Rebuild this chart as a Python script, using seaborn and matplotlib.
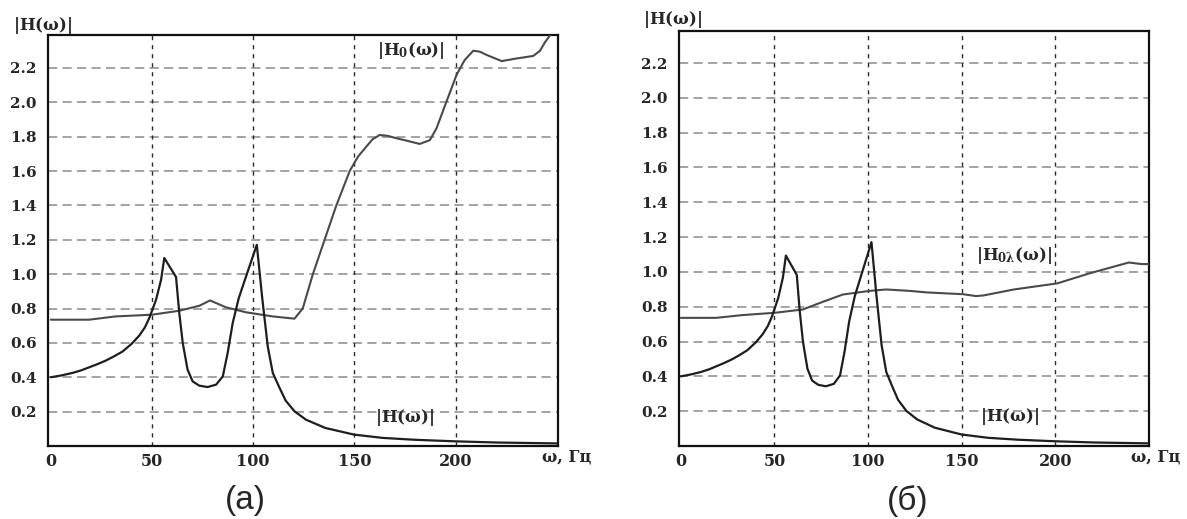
import matplotlib
matplotlib.use("Agg")
import matplotlib.pyplot as plt
import numpy as np
import pandas as pd
import seaborn as sns

# ---------------- data ----------------
x_ticks = [0, 50, 100, 150, 200]
x_tick_labels = ["0", "50", "100", "150", "200"]
y_ticks = [0.2, 0.4, 0.6, 0.8, 1.0, 1.2, 1.4, 1.6, 1.8, 2.0, 2.2]
y_tick_labels = ["0.2", "0.4", "0.6", "0.8", "1.0", "1.2", "1.4", "1.6", "1.8", "2.0", "2.2"]

# |H(w)| - same curve on both panels
omega_H = [0, 5, 10.7, 15, 19, 23, 27.2, 31, 35.5, 40, 43.7, 46.5, 48.7, 52, 54.5, 56.1,
           61.9, 63.5, 65.2, 67.6, 70.1, 73.4, 77.5, 81.7, 85, 87.4, 89.9, 92.9, 96.5,
           101.8, 104.4, 107.2, 109.7, 112.7, 116, 120.4, 126.1, 135.6, 149.9, 164, 180,
           200, 221, 250]
H = [0.40, 0.41, 0.425, 0.44, 0.458, 0.476, 0.497, 0.52, 0.55, 0.595, 0.642, 0.69, 0.745,
     0.85, 0.967, 1.094, 0.983, 0.774, 0.60, 0.444, 0.376, 0.351, 0.343, 0.357, 0.405,
     0.541, 0.716, 0.861, 0.987, 1.171, 0.87, 0.58, 0.425, 0.347, 0.265, 0.202, 0.153,
     0.105, 0.066, 0.047, 0.036, 0.027, 0.02, 0.015]

# |H0(w)| - panel (a)
omega_H0 = [0, 19, 32, 50, 63.5, 73.4, 78.7, 86.6, 96.5, 109.7, 120.4, 124.5, 129.5,
            135.3, 141.1, 147.7, 151.8, 155.9, 159, 162.5, 166.5, 170.8, 176.5, 182.3,
            187.3, 190.6, 195.5, 200.5, 204.5, 208.7, 212, 215.3, 222.8, 230, 238.4,
            241.7, 244.2, 246.7, 249]
H0 = [0.735, 0.735, 0.754, 0.764, 0.787, 0.816, 0.847, 0.807, 0.778, 0.754, 0.741, 0.80,
      1.0, 1.2, 1.40, 1.60, 1.684, 1.742, 1.785, 1.81, 1.805, 1.791, 1.775, 1.758, 1.78,
      1.849, 2.004, 2.16, 2.246, 2.30, 2.295, 2.276, 2.24, 2.255, 2.27, 2.30, 2.35,
      2.39, 2.43]

# |H0λ(w)| - panel (б)
omega_H0l = [0, 18.8, 33, 50, 65.1, 75.8, 86.5, 100.8, 109.7, 122.2, 131.5, 150.6,
             157.7, 161.7, 177.8, 201, 218, 239.2, 246, 250]
H0l = [0.736, 0.736, 0.752, 0.765, 0.784, 0.828, 0.87, 0.891, 0.899, 0.891, 0.882,
       0.872, 0.861, 0.865, 0.899, 0.934, 0.991, 1.054, 1.045, 1.045]

# ---------------- style ----------------
sns.set_style("white")
plt.rcParams["font.family"] = ["DejaVu Serif", "DejaVu Sans"]
plt.rcParams["mathtext.fontset"] = "custom"
plt.rcParams["mathtext.rm"] = "DejaVu Serif:bold"
plt.rcParams["mathtext.it"] = "DejaVu Serif:bold"
plt.rcParams["mathtext.bf"] = "DejaVu Serif:bold"

fig = plt.figure(figsize=(11.87, 5.19), dpi=100)
fig.patch.set_facecolor("white")
ax1 = fig.add_axes([0.0402, 0.1407, 0.4297, 0.7919])
ax2 = fig.add_axes([0.5720, 0.1407, 0.3960, 0.7996])

df_H = pd.DataFrame({"omega": omega_H, "val": H})
df_H0 = pd.DataFrame({"omega": omega_H0, "val": H0})
df_H0l = pd.DataFrame({"omega": omega_H0l, "val": H0l})


def style_axes(ax, xlim, ylim):
    ax.set_xlim(*xlim)
    ax.set_ylim(*ylim)
    for yv in y_ticks:
        ax.axhline(yv, color="#8a8a8a", lw=1.1, ls=(0, (6, 3.5)), zorder=1)
    for xv in x_ticks[1:]:
        ax.axvline(xv, color="#2a2a2a", lw=1.0, ls=(0, (3, 3.5)), zorder=1)
    ax.set_xticks(x_ticks)
    ax.set_xticklabels(x_tick_labels, fontweight="bold", fontsize=11.5)
    ax.set_yticks(y_ticks)
    ax.set_yticklabels(y_tick_labels, fontweight="bold", fontsize=11)
    ax.tick_params(axis="x", length=0, pad=5)
    ax.tick_params(axis="y", length=0, pad=8)
    ax.set_xlabel("")
    ax.set_ylabel("")
    for s in ax.spines.values():
        s.set_visible(True)
        s.set_color("#111111")
        s.set_linewidth(1.6)


for ax, df_extra in [(ax1, df_H0), (ax2, df_H0l)]:
    sns.lineplot(data=df_extra, x="omega", y="val", ax=ax, color="#4a4a4a",
                 lw=1.5, zorder=3)
    sns.lineplot(data=df_H, x="omega", y="val", ax=ax, color="#1e1e1e",
                 lw=1.6, zorder=4)

style_axes(ax1, (-1.5, 250.5), (0, 2.392))
style_axes(ax2, (-1.0, 250), (0, 2.384))

# curve labels
ax1.text(177.8, 2.30, r"$|H_{0}(\omega)|$", ha="center", va="center", fontsize=12, zorder=5)
ax1.text(175, 0.163, r"$|H(\omega)|$", ha="center", va="center", fontsize=12, zorder=5)
ax2.text(177.8, 1.097, r"$|H_{0\lambda}(\omega)|$", ha="center", va="center", fontsize=12, zorder=5)
ax2.text(175.7, 0.167, r"$|H(\omega)|$", ha="center", va="center", fontsize=12, zorder=5)

# axis titles
fig.text(42.5 / 1187, 1 - 25 / 519, r"$|H(\omega)|$", ha="center", va="center", fontsize=12)
fig.text(673 / 1187, 1 - 20 / 519, r"$|H(\omega)|$", ha="center", va="center", fontsize=12)
fig.text(566.5 / 1187, 1 - 457 / 519, "ω, Гц", ha="center", va="center",
         fontsize=11.5, fontweight="bold")
fig.text(1156 / 1187, 1 - 457 / 519, "ω, Гц", ha="center", va="center",
         fontsize=11.5, fontweight="bold")

# panel captions
fig.text(245 / 1187, 1 - 500 / 519, "(a)", ha="center", va="center",
         fontsize=24, family=["Liberation Sans", "DejaVu Sans"])
fig.text(908 / 1187, 1 - 501 / 519, "(б)", ha="center", va="center",
         fontsize=24, family=["Liberation Sans", "DejaVu Sans"])

fig.savefig("out.png", dpi=100, facecolor="white")
